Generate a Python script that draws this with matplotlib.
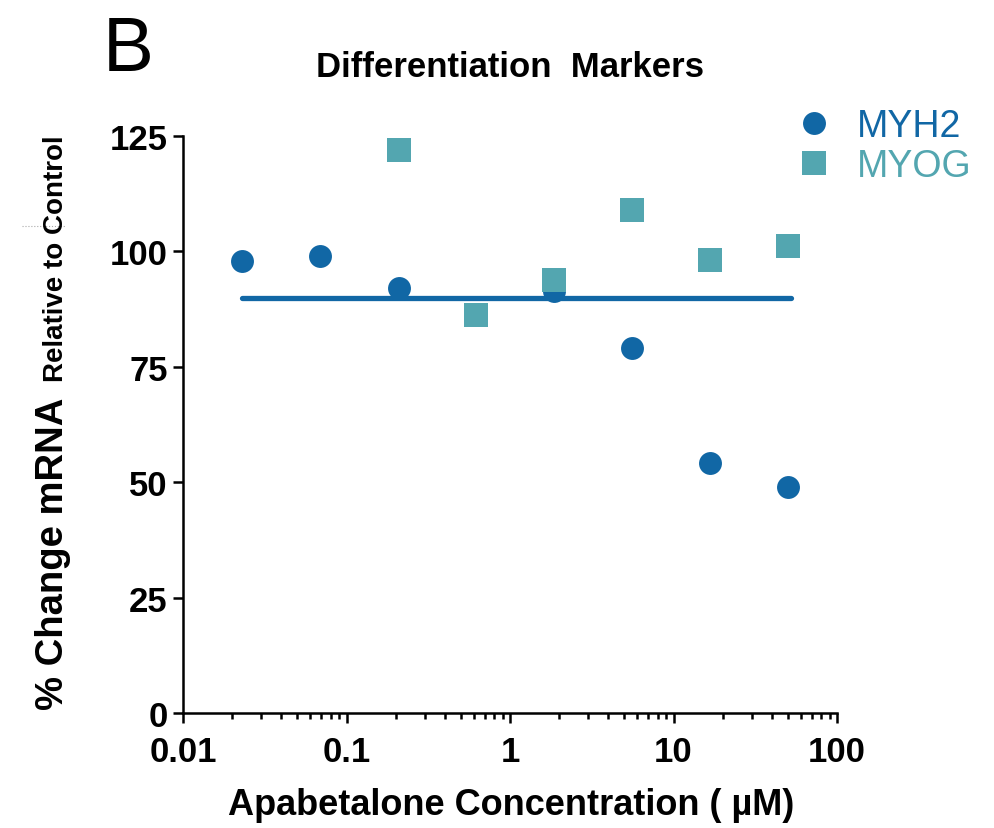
import numpy as np
import matplotlib
matplotlib.use("Agg")
import matplotlib.pyplot as plt
from matplotlib.ticker import LogLocator, FixedLocator, NullFormatter

plt.rcParams['font.family'] = ['Liberation Sans', 'DejaVu Sans']

# concentrations (uM), 3-fold dilution series
conc_myh2 = [0.023, 0.069, 0.21, 1.85, 5.56, 16.7, 50.0]
myh2 = [98.0, 99.0, 92.1, 91.5, 79.1, 54.2, 49.0]

conc_myog = [0.21, 0.62, 1.85, 5.56, 16.7, 50.0]
myog = [122.0, 86.2, 93.8, 109.0, 98.1, 101.2]

fit_x = [0.023, 52.0]
fit_y = [89.9, 89.9]

x_ticks = [0.01, 0.1, 1, 10, 100]
x_labels = ["0.01", "0.1", "1", "10", "100"]
y_ticks = [0, 25, 50, 75, 100, 125]

c_myh2 = "#1167a5"
c_myog = "#53a6b0"

W, H = 994, 829
fig = plt.figure(figsize=(W / 100, H / 100), dpi=100)
ax = fig.add_axes([183 / W, 1 - 714 / H, (837 - 183) / W, (714 - 137) / H])

ax.plot(conc_myh2, myh2, 'o', color=c_myh2, ms=16.5, mew=0, zorder=3, label="MYH2")
ax.plot(conc_myog, myog, 's', color=c_myog, ms=17, mew=0, zorder=4, label="MYOG")
ax.plot(fit_x, fit_y, '-', color=c_myh2, lw=3.8, solid_capstyle='round', zorder=5)

ax.set_xscale('log')
ax.set_xlim(0.01, 100)
ax.set_ylim(0, 125)
ax.xaxis.set_major_locator(FixedLocator(x_ticks))
ax.set_xticklabels(x_labels)
ax.xaxis.set_minor_locator(LogLocator(base=10, subs=np.arange(2, 10)))
ax.xaxis.set_minor_formatter(NullFormatter())
ax.set_yticks(y_ticks)

for s in ['top', 'right']:
    ax.spines[s].set_visible(False)
for s in ['left', 'bottom']:
    ax.spines[s].set_linewidth(1.8)

ax.tick_params(axis='both', which='major', length=7, width=1.8, labelsize=25, direction='out')
ax.tick_params(axis='x', which='minor', length=4.5, width=1.8, direction='out')
ax.tick_params(axis='y', pad=4)
ax.tick_params(axis='x', pad=9)
for lab in ax.get_xticklabels() + ax.get_yticklabels():
    lab.set_fontweight('bold')

# panel letter and title
fig.text(103 / W, 1 - 71 / H, "B", fontsize=55, ha='left', va='baseline')
fig.text(510 / W, 1 - 77 / H, "Differentiation  Markers", fontsize=25,
         fontweight='bold', ha='center', va='baseline')

# x label
fig.text(511 / W, 1 - 815 / H, "Apabetalone Concentration ( \u00b5M)", fontsize=26,
         fontweight='bold', ha='center', va='baseline')

# y label in two sizes
fig.text(63 / W, 1 - 710 / H, "% Change mRNA", fontsize=27.5, fontweight='bold',
         rotation=90, rotation_mode='anchor', ha='left', va='baseline')
fig.text(63 / W, 1 - 382 / H, "Relative to Control", fontsize=20, fontweight='bold',
         rotation=90, rotation_mode='anchor', ha='left', va='baseline')
fig.add_artist(plt.Line2D([22 / W, 65 / W], [1 - 227 / H, 1 - 227 / H],
                          color='#aaaaaa', lw=0.8, ls=':'))

leg = ax.legend(loc='upper left', bbox_to_anchor=(795 / W, 1 - 109 / H),
                bbox_transform=fig.transFigure, frameon=False, fontsize=27,
                handlelength=1.0, handletextpad=0.65, labelspacing=0.1,
                borderaxespad=0, borderpad=0)
for txt, col in zip(leg.get_texts(), [c_myh2, c_myog]):
    txt.set_color(col)

fig.savefig("out.png", dpi=100, facecolor='white')
